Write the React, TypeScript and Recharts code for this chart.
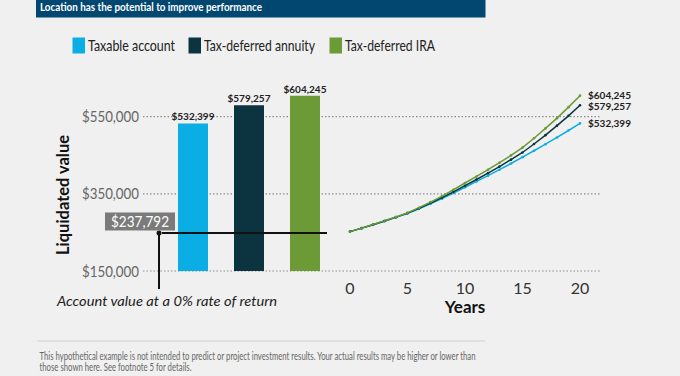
import React from 'react';
import {
  BarChart,
  Bar,
  Cell,
  XAxis,
  YAxis,
  ReferenceLine,
  LabelList,
  LineChart,
  Line,
} from 'recharts';

// ---------- data ----------
const titleText = 'Location has the potential to improve performance';
const seriesNames = ['Taxable account', 'Tax-deferred annuity', 'Tax-deferred IRA'];
const seriesColors = ['#0aaee4', '#0b3440', '#6b9a36'];
const finalValues = [532399, 579257, 604245];
const yTicks = [150000, 350000, 550000];
const yDomain = [150000, 650000];

const years = [0, 1, 2, 3, 4, 5, 6, 7, 8, 9, 10, 11, 12, 13, 14, 15, 16, 17, 18, 19, 20];
const taxableLine = [
  252000, 260500, 269500, 279000, 289000, 299000, 311000, 324000, 337500, 352000, 367000,
  382000, 397000, 412500, 428500, 445000, 461500, 478500, 496000, 514000, 532399,
];
const annuityLine = [
  252000, 261000, 270000, 279500, 289500, 300000, 312500, 326000, 340000, 355000, 371000,
  387000, 403500, 420500, 438500, 457000, 479000, 502000, 526500, 552000, 579257,
];
const iraLine = [
  252000, 261000, 270500, 280000, 290000, 300500, 314000, 328500, 344000, 360500, 378000,
  395000, 412500, 430500, 449500, 469500, 494000, 519500, 546000, 574500, 604245,
];
const xTicks = [0, 5, 10, 15, 20];
const xLabel = 'Years';
const yLabel = 'Liquidated value';

const zeroReturnText = '$237,792';
const zeroReturnLevel = 248500;
const zeroReturnCaption = 'Account value at a 0% rate of return';

const footnoteLines = [
  'This hypothetical example is not intended to predict or project investment results. Your actual results may be higher or lower than',
  'those shown here. See footnote 5 for details.',
];

// ---------- derived tables ----------
const barData = seriesNames.map((name, i) => ({ name, value: finalValues[i] }));
const lineData = years.map((year, i) => ({
  year,
  taxable: taxableLine[i],
  annuity: annuityLine[i],
  ira: iraLine[i],
}));
const lineKeys = ['taxable', 'annuity', 'ira'];

const fmt = (v: number) => '$' + v.toLocaleString('en-US');
const FONT = 'Lato, "Open Sans", sans-serif';

const ZeroReturnShape = (props: any) => {
  const y = props.y1;
  return (
    <g>
      <line x1={162} x2={327} y1={y} y2={y} stroke="#111" strokeWidth={2} />
      <line x1={159} x2={159} y1={y} y2={289} stroke="#111" strokeWidth={2} />
      <circle cx={159} cy={y} r={2.5} fill="#111" />
      <rect x={105} y={y - 20.5} width={70} height={18} fill="#7b7b7b" />
      <text
        x={140}
        y={y - 6}
        textAnchor="middle"
        fill="#ffffff"
        fontSize={15}
        fontFamily={FONT}
        textLength={58}
        lengthAdjust="spacingAndGlyphs"
      >
        {zeroReturnText}
      </text>
      <text
        x={57}
        y={306}
        fill="#222"
        fontSize={14}
        fontStyle="italic"
        fontFamily={FONT}
        textLength={220}
        lengthAdjust="spacingAndGlyphs"
      >
        {zeroReturnCaption}
      </text>
    </g>
  );
};

const endLabel = (dy: number) => (props: any) => {
  const { x, y, index, value } = props;
  if (index !== years.length - 1) return null;
  return (
    <text x={x + 8} y={y + dy + 3.5} fill="#222" fontSize={10} fontWeight={700} fontFamily={FONT}>
      {fmt(value)}
    </text>
  );
};

const YTick = (p: any) => (
  <text
    x={p.x}
    y={p.y + 5.5}
    textAnchor="end"
    fill="#666"
    fontSize={16}
    fontFamily={FONT}
    textLength={57}
    lengthAdjust="spacingAndGlyphs"
  >
    {fmt(p.payload.value)}
  </text>
);

const XTick = (p: any) => (
  <text x={p.x} y={p.y + 11} textAnchor="middle" fill="#333" fontSize={16} fontFamily={FONT}>
    {p.payload.value}
  </text>
);

const legendX = [72.5, 188.5, 329.5];
const legendTextLen = [87, 111, 90];

const layer: React.CSSProperties = { position: 'absolute', left: 0, top: 0 };

export default function App() {
  return (
    <div
      style={{
        position: 'fixed',
        left: 0,
        top: 0,
        width: 680,
        height: 376,
        background: '#f0f0f0',
        overflow: 'hidden',
        fontFamily: FONT,
      }}
    >
      <svg width={680} height={376} style={layer}>
        <rect x={36} y={0} width={449.5} height={17.5} fill="#02476f" />
        <text
          x={40}
          y={11}
          fill="#ffffff"
          fontSize={11}
          fontWeight={700}
          fontFamily={FONT}
          textLength={222}
          lengthAdjust="spacingAndGlyphs"
        >
          {titleText}
        </text>
        {seriesNames.map((name, i) => (
          <g key={name}>
            <rect x={legendX[i]} y={37.5} width={12.5} height={16} fill={seriesColors[i]} />
            <text
              x={legendX[i] + 15.5}
              y={51}
              fill="#222"
              fontSize={16}
              fontFamily={FONT}
              textLength={legendTextLen[i]}
              lengthAdjust="spacingAndGlyphs"
            >
              {name}
            </text>
          </g>
        ))}
        <text
          x={63}
          y={195}
          transform="rotate(-90 63 195)"
          textAnchor="middle"
          dominantBaseline="central"
          fill="#111"
          fontSize={16.5}
          fontWeight={700}
          fontFamily={FONT}
          textLength={120}
          lengthAdjust="spacingAndGlyphs"
        >
          {yLabel}
        </text>
        <line x1={37} x2={485} y1={341} y2={341} stroke="#cfcfcf" strokeWidth={1} />
        <text
          x={39.5}
          y={359.5}
          fill="#666"
          fontSize={10.5}
          fontFamily={FONT}
          textLength={436}
          lengthAdjust="spacingAndGlyphs"
        >
          {footnoteLines[0]}
        </text>
        <text
          x={39.5}
          y={371}
          fill="#666"
          fontSize={10.5}
          fontFamily={FONT}
          textLength={152}
          lengthAdjust="spacingAndGlyphs"
        >
          {footnoteLines[1]}
        </text>
      </svg>

      {/* grid + y axis layer (behind the bars) */}
      <div style={layer}>
        <BarChart
          width={680}
          height={376}
          data={barData}
          margin={{ top: 78, right: 80, bottom: 105, left: 0 }}
        >
          <XAxis dataKey="name" type="category" hide />
          <YAxis
            type="number"
            domain={yDomain}
            ticks={yTicks}
            width={143}
            axisLine={false}
            tickLine={false}
            tickSize={0}
            tickMargin={4}
            tick={YTick}
            allowDataOverflow
          />
          {yTicks.map((t) => (
            <ReferenceLine
              key={t}
              y={t}
              stroke="#8c8c8c"
              strokeWidth={1.2}
              strokeDasharray="1.5 2"
              ifOverflow="visible"
            />
          ))}
        </BarChart>
      </div>

      {/* bars layer */}
      <div style={layer}>
        <BarChart
          width={680}
          height={376}
          data={barData}
          margin={{ top: 78, right: 80, bottom: 105, left: 143 }}
          barCategoryGap={0}
        >
          <XAxis dataKey="name" type="category" hide padding={{ left: 22, right: 267 }} />
          <YAxis hide type="number" domain={yDomain} allowDataOverflow />
          <Bar dataKey="value" barSize={30} isAnimationActive={false}>
            {barData.map((d, i) => (
              <Cell key={d.name} fill={seriesColors[i]} />
            ))}
            <LabelList
              dataKey="value"
              position="top"
              offset={3}
              formatter={(v: any) => fmt(Number(v))}
              style={{ fill: '#222', fontSize: 10, fontWeight: 700, fontFamily: FONT }}
            />
          </Bar>
          <ReferenceLine y={zeroReturnLevel} ifOverflow="visible" shape={ZeroReturnShape} />
        </BarChart>
      </div>

      {/* growth lines layer */}
      <div style={layer}>
        <LineChart
          width={680}
          height={376}
          data={lineData}
          margin={{ top: 78, right: 100, bottom: 45, left: 350 }}
        >
          <XAxis
            dataKey="year"
            type="number"
            domain={[0, 20]}
            ticks={xTicks}
            height={60}
            axisLine={false}
            tickLine={false}
            tickSize={0}
            tickMargin={12}
            tick={XTick}
            label={{
              content: () => (
                <text
                  x={465}
                  y={313}
                  textAnchor="middle"
                  fill="#111"
                  fontSize={17}
                  fontWeight={700}
                  fontFamily={FONT}
                >
                  {xLabel}
                </text>
              ),
            }}
          />
          <YAxis hide type="number" domain={yDomain} allowDataOverflow />
          {lineKeys.map((k, i) => (
            <Line
              key={k}
              dataKey={k}
              type="linear"
              stroke={seriesColors[i]}
              strokeWidth={1.5}
              dot={{ r: 1.3, fill: seriesColors[i], stroke: 'none' }}
              isAnimationActive={false}
            >
              <LabelList dataKey={k} content={endLabel([0, 1.5, 0][i])} />
            </Line>
          ))}
        </LineChart>
      </div>
    </div>
  );
}
